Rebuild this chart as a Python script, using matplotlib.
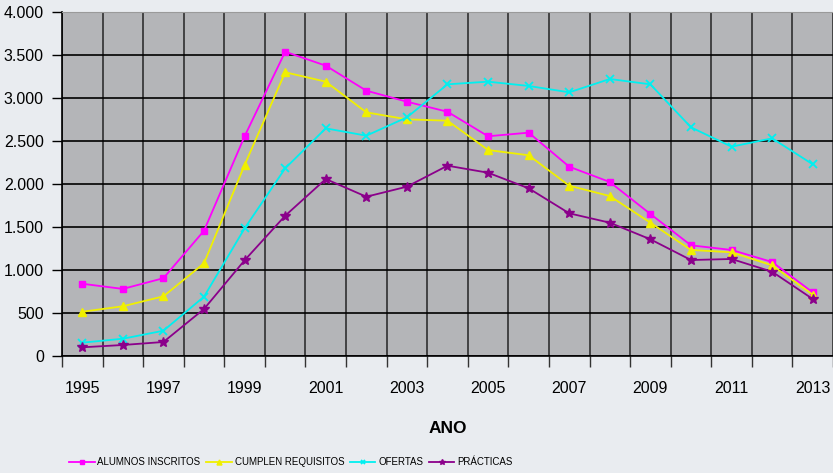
import matplotlib
matplotlib.use("Agg")
import matplotlib.pyplot as plt

years = list(range(1995, 2014))
alumnos = [840, 780, 905, 1457, 2555, 3538, 3376, 3085, 2957, 2840, 2555, 2597, 2201, 2023, 1651, 1287, 1233, 1093, 740]
cumplen = [515, 578, 694, 1078, 2221, 3299, 3190, 2833, 2752, 2736, 2395, 2334, 1980, 1860, 1550, 1233, 1206, 1054, 713]
ofertas = [155, 201, 294, 690, 1484, 2182, 2647, 2562, 2775, 3159, 3190, 3140, 3066, 3221, 3159, 2659, 2434, 2531, 2229]
practicas = [101, 128, 163, 547, 1113, 1631, 2058, 1852, 1969, 2213, 2131, 1950, 1659, 1550, 1357, 1116, 1128, 980, 663]
series_names = ["ALUMNOS INSCRITOS", "CUMPLEN REQUISITOS", "OFERTAS", "PRÁCTICAS"]
yticks = [0, 500, 1000, 1500, 2000, 2500, 3000, 3500, 4000]
ytick_labels = ["0", "500", "1.000", "1.500", "2.000", "2.500", "3.000", "3.500", "4.000"]

plt.rcParams['font.family'] = ['Liberation Sans', 'DejaVu Sans']

fig = plt.figure(figsize=(8.33, 4.73), dpi=100)
fig.patch.set_facecolor("#E9ECF0")
ax = fig.add_axes([62/833, 1-356/473, 1-62/833, (356-12)/473])
ax.set_facecolor("#B4B5B8")

x = list(range(len(years)))
styles = [
    dict(color="#FF00FF", marker="s", ms=5),
    dict(color="#F0F000", marker="^", ms=6),
    dict(color="#00F0F0", marker="x", ms=6, mew=1.3),
    dict(color="#8B008B", marker="*", ms=7),
]
data = [alumnos, cumplen, ofertas, practicas]
for vals, name, st in zip(data, series_names, styles):
    ax.plot(x, vals, lw=1.3, label=name, zorder=3, **st)

ax.set_xlim(-0.5, len(years) - 0.5)
ax.set_ylim(0, 4000)
ax.set_yticks(yticks)
ax.set_yticklabels(ytick_labels, fontsize=11.5)
ax.set_xticks(x[::2])
ax.set_xticklabels([str(y) for y in years[::2]], fontsize=11.5)
ax.set_xticks([i - 0.5 for i in range(len(years) + 1)], minor=True)
ax.tick_params(axis='x', which='major', length=0, pad=18)
ax.tick_params(axis='x', which='minor', length=8, width=1, color="#333333")
ax.tick_params(axis='y', length=7, width=1, pad=6)
ax.grid(axis='y', which='major', color='black', lw=1.2)
ax.grid(axis='x', which='minor', color='#3a3a3a', lw=1.3)
ax.set_axisbelow(True)
for s in ["left", "bottom"]:
    ax.spines[s].set_color("black")
    ax.spines[s].set_linewidth(1.2)
ax.spines["top"].set_color("#9a9a9a")
ax.spines["right"].set_visible(False)

ax.set_xlabel("ANO", fontsize=12.5, fontweight="bold", labelpad=18)

fig.legend(loc="center", bbox_to_anchor=(291/833, 1-462/473), ncol=4, frameon=False,
           fontsize=7, handlelength=2.6, handletextpad=0.3, columnspacing=0.6,
           markerscale=0.6)

fig.savefig("out.png", dpi=100, facecolor=fig.get_facecolor())
